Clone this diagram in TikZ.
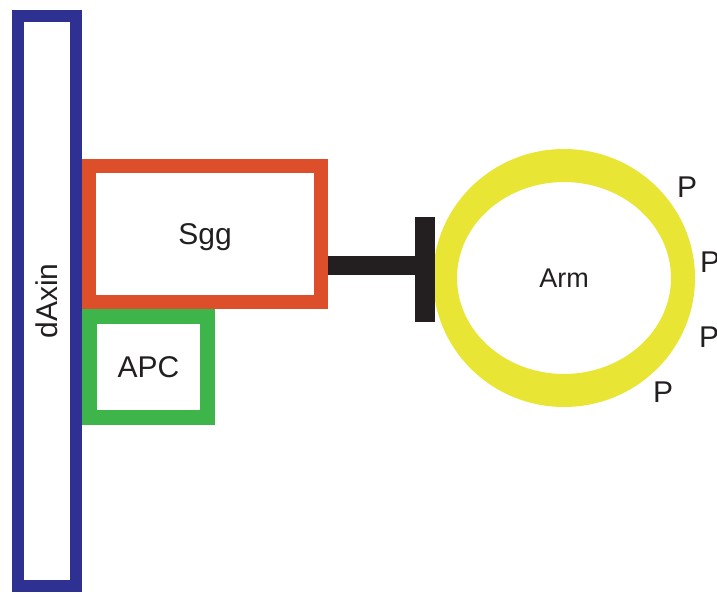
\documentclass[tikz,border=0pt]{standalone}
\usepackage{fontspec}
\setmainfont{Liberation Sans}
\usetikzlibrary{positioning}
\definecolor{axblue}{HTML}{2E3192}
\definecolor{sggred}{HTML}{DC4F2A}
\definecolor{apcgreen}{HTML}{3DB54A}
\definecolor{armyellow}{HTML}{E8E534}
\definecolor{pblack}{HTML}{231F20}
\tikzset{
  pbox/.style={draw, rectangle, inner sep=0pt, align=center,
               font=\fontsize{30}{36}\selectfont, text=pblack},
  axbox/.style={pbox, draw=axblue, line width=12pt},
  sggbox/.style={pbox, draw=sggred, line width=14pt, text depth=0pt},
  apcbox/.style={pbox, draw=apcgreen, line width=15pt},
  pinhib/.style={draw=pblack, line width=19pt},
  pbar/.style={fill=pblack, inner sep=0pt, minimum width=20pt,
               minimum height=105pt},
  plabel/.style={font=\fontsize{30}{36}\selectfont, text=pblack,
                 inner sep=0pt, anchor=base west},
}
\begin{document}
\begin{tikzpicture}[x=1pt,y=-1pt]
\useasboundingbox (0,0) rectangle (717,597);
\node[axbox,rotate=90,minimum width=570pt,minimum height=58pt] (axin) at (47,301) {dAxin};
\node[apcbox,minimum width=118pt,minimum height=101pt] (apc) at (148.5,367) {APC};
\node[sggbox,minimum width=232pt,minimum height=136pt] (sgg) at (205,234) {Sgg};
% Arm ring
\node[font=\fontsize{27}{32}\selectfont,text=pblack,inner sep=0pt] (arm) at (564,278) {Arm};
\fill[armyellow,even odd rule] (arm) ellipse [x radius=131pt,y radius=129pt]
  (arm) ellipse [x radius=107pt,y radius=96pt];
\node[pbar] (tbar) at (425,269.5) {};
\coordinate (hit) at (416,265.5);
\draw[pinhib] (sgg.east |- hit) -- (hit);
\node[plabel] (p1) at (677,197) {P};
\node[plabel] (p2) at (700,272) {P};
\node[plabel] (p3) at (699,347) {P};
\node[plabel] (p4) at (653,402) {P};
\end{tikzpicture}
\end{document}
